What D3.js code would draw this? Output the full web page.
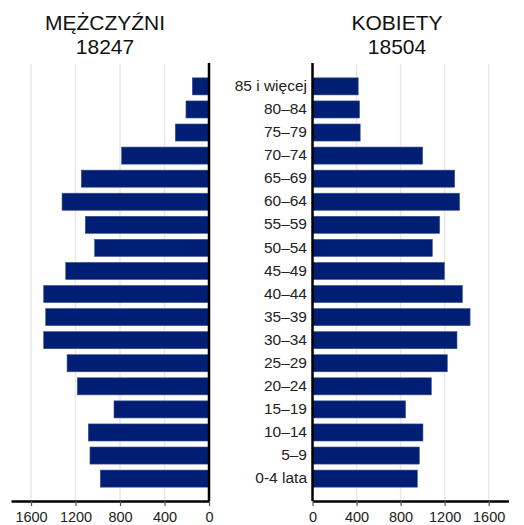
<!DOCTYPE html>
<html><head><meta charset="utf-8">
<script src="https://cdn.jsdelivr.net/npm/d3@7/dist/d3.min.js"></script>
<style>body{margin:0;background:#fff}svg{display:block;font-family:"Liberation Sans",Arial,sans-serif}</style>
</head><body>
<svg id="c" width="524" height="525"></svg>
<script>
const ageGroups = ["85 i więcej","80–84","75–79","70–74","65–69","60–64","55–59","50–54","45–49","40–44","35–39","30–34","25–29","20–24","15–19","10–14","5–9","0-4 lata"];
const men   = [150,207,303,785,1148,1321,1112,1028,1288,1486,1468,1486,1276,1184,854,1085,1070,977];
const women = [415,427,433,1000,1291,1336,1155,1088,1197,1361,1431,1312,1224,1079,845,1003,970,952];
const titles = ["MĘŻCZYŹNI","KOBIETY"];
const totals = ["18247","18504"];
const ticks = [0,400,800,1200,1600];

const FONT = "Liberation Sans, Arial, sans-serif";
const svg = d3.select("#c");
const plotTop = 64, plotBottom = 501;
const y = d3.scaleBand().domain(ageGroups).range([plotTop, plotBottom]).paddingInner(0.26).paddingOuter(0.6);
const xL = d3.scaleLinear().domain([0,1780]).range([209,11]);
const xR = d3.scaleLinear().domain([0,1780]).range([312.5,508.5]);
const barColor = "#001f74";

function panel(x, data){
  const g = svg.append("g");
  g.selectAll("line.grid").data(ticks.slice(1)).join("line")
    .attr("x1",d=>x(d)).attr("x2",d=>x(d)).attr("y1",plotTop).attr("y2",plotBottom)
    .attr("stroke","#e8e8e8").attr("stroke-width",1.5);
  g.selectAll("rect").data(data).join("rect")
    .attr("x",(d)=>Math.min(x(0),x(d)))
    .attr("width",d=>Math.abs(x(d)-x(0)))
    .attr("y",(d,i)=>y(ageGroups[i]))
    .attr("height",y.bandwidth())
    .attr("fill",barColor).attr("stroke","#3c508f").attr("stroke-width",0.6);
  g.append("line").attr("x1",x(0)).attr("x2",x(0)).attr("y1",plotTop-1).attr("y2",plotBottom)
    .attr("stroke","#000").attr("stroke-width",2.5);
  const ax = g.append("g").attr("transform",`translate(0,${plotBottom})`)
    .call(d3.axisBottom(x).tickValues(ticks).tickFormat(d3.format("d")).tickSize(5).tickSizeOuter(0).tickPadding(6));
  ax.attr("font-family",FONT);
  ax.select(".domain").attr("stroke","#000").attr("stroke-width",2.5);
  ax.selectAll(".tick line").attr("stroke","#555").attr("stroke-width",1.2);
  ax.selectAll(".tick text").attr("font-size",14.5).attr("fill","#222");
}
panel(xL, men);
panel(xR, women);

svg.append("g").attr("font-family",FONT).selectAll("text").data(ageGroups).join("text")
  .attr("x",307).attr("y",d=>y(d)+y.bandwidth()/2).attr("dy","0.3em")
  .attr("text-anchor","end").attr("font-size",15.5).attr("fill","#222").text(d=>d);

const tx = [105,397];
titles.forEach((t,i)=>{
  svg.append("text").attr("font-family",FONT).attr("x",tx[i]).attr("y",30).attr("text-anchor","middle")
    .attr("font-size",21).attr("fill","#111").text(t);
  svg.append("text").attr("font-family",FONT).attr("x",tx[i]).attr("y",54).attr("text-anchor","middle")
    .attr("font-size",21).attr("fill","#111").text(totals[i]);
});
</script>
</body></html>
